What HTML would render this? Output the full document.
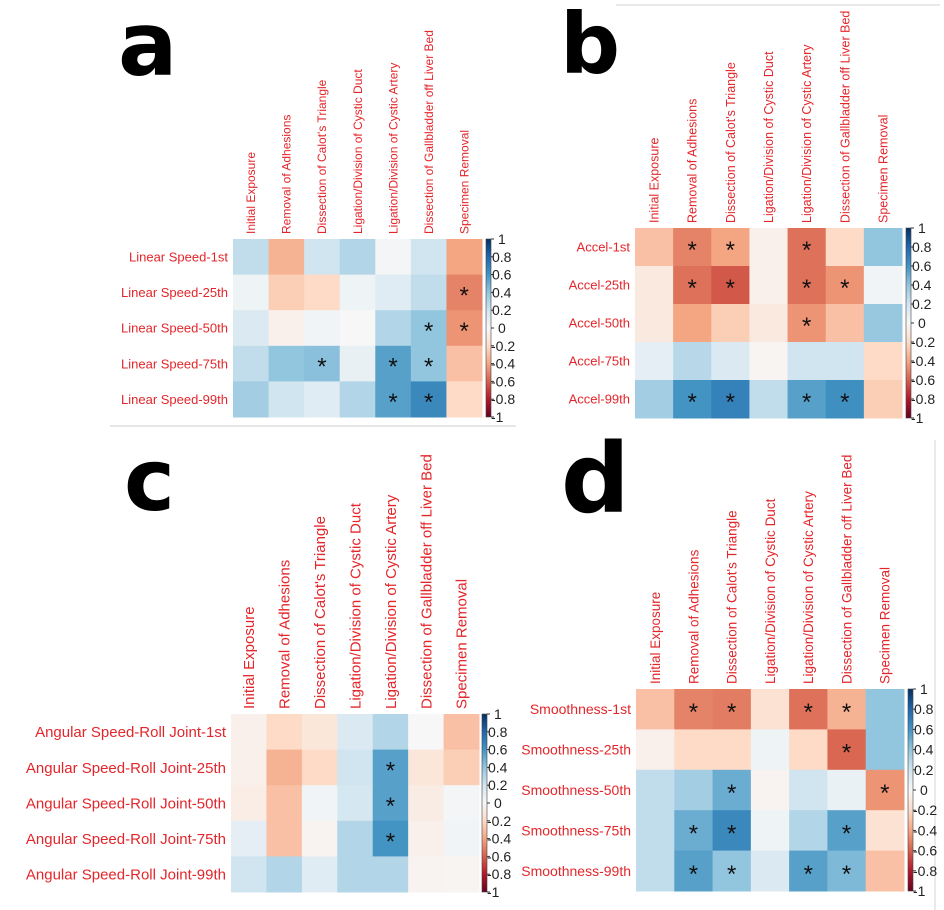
<!DOCTYPE html>
<html><head><meta charset="utf-8"><style>
html,body{margin:0;padding:0;background:#fff;}
svg{display:block;font-family:"Liberation Sans",Arial,sans-serif;}
</style></head><body>
<svg id="fig" width="944" height="910" viewBox="0 0 944 910"></svg>
<script>
const columns = ["Initial Exposure","Removal of Adhesions","Dissection of Calot's Triangle","Ligation/Division of Cystic Duct","Ligation/Division of Cystic Artery","Dissection of Gallbladder off Liver Bed","Specimen Removal"];
const cbTicks = ["1","0.8","0.6","0.4","0.2","0","-0.2","-0.4","-0.6","-0.8","-1"];

const rowsA = ["Linear Speed-1st","Linear Speed-25th","Linear Speed-50th","Linear Speed-75th","Linear Speed-99th"];
const valsA = [
 [0.25,-0.35,0.2,0.3,0.02,0.2,-0.4],
 [0.05,-0.25,-0.2,0.05,0.12,0.25,-0.5],
 [0.15,-0.05,0.03,0,0.3,0.4,-0.45],
 [0.25,0.4,0.42,0.08,0.55,0.4,-0.3],
 [0.35,0.2,0.12,0.3,0.55,0.65,-0.2]];
const sigA = [[0,0,0,0,0,0,0],[0,0,0,0,0,0,1],[0,0,0,0,0,1,1],[0,0,1,0,1,1,0],[0,0,0,0,1,1,0]];

const rowsB = ["Accel-1st","Accel-25th","Accel-50th","Accel-75th","Accel-99th"];
const valsB = [
 [-0.3,-0.5,-0.4,-0.05,-0.55,-0.2,0.4],
 [-0.1,-0.55,-0.62,-0.05,-0.55,-0.45,0.03],
 [-0.1,-0.4,-0.25,-0.1,-0.45,-0.3,0.38],
 [0.1,0.28,0.15,-0.02,0.2,0.2,-0.2],
 [0.35,0.6,0.68,0.25,0.55,0.62,-0.25]];
const sigB = [[0,1,1,0,1,0,0],[0,1,1,0,1,1,0],[0,0,0,0,1,0,0],[0,0,0,0,0,0,0],[0,1,1,0,1,1,0]];

const rowsC = ["Angular Speed-Roll Joint-1st","Angular Speed-Roll Joint-25th","Angular Speed-Roll Joint-50th","Angular Speed-Roll Joint-75th","Angular Speed-Roll Joint-99th"];
const valsC = [
 [-0.05,-0.2,-0.12,0.15,0.3,0,-0.3],
 [-0.05,-0.35,-0.2,0.2,0.55,-0.12,-0.25],
 [-0.07,-0.3,0.03,0.18,0.55,-0.08,0.02],
 [0.1,-0.3,-0.03,0.3,0.6,-0.05,0.03],
 [0.2,0.3,0.12,0.3,0.3,-0.03,-0.02]];
const sigC = [[0,0,0,0,0,0,0],[0,0,0,0,1,0,0],[0,0,0,0,1,0,0],[0,0,0,0,1,0,0],[0,0,0,0,0,0,0]];

const rowsD = ["Smoothness-1st","Smoothness-25th","Smoothness-50th","Smoothness-75th","Smoothness-99th"];
const valsD = [
 [-0.3,-0.5,-0.52,-0.15,-0.55,-0.35,0.4],
 [-0.05,-0.2,-0.2,0.05,-0.2,-0.58,0.4],
 [0.25,0.35,0.5,-0.03,0.2,0.07,-0.45],
 [0.25,0.5,0.65,0.05,0.3,0.55,-0.15],
 [0.25,0.55,0.4,0.15,0.55,0.45,-0.3]];
const sigD = [[0,1,1,0,1,1,0],[0,0,0,0,0,1,0],[0,0,1,0,0,0,1],[0,1,1,0,0,1,0],[0,1,1,0,1,1,0]];

const NS="http://www.w3.org/2000/svg";
const svg=document.getElementById('fig');
const stops=[[-1,[103,0,31]],[-0.8,[178,24,43]],[-0.6,[214,96,77]],[-0.4,[244,165,130]],[-0.2,[253,219,199]],[0,[247,247,247]],[0.2,[209,229,240]],[0.4,[146,197,222]],[0.6,[67,147,195]],[0.8,[33,102,172]],[1,[5,48,97]]];
function color(v){
  v=Math.max(-1,Math.min(1,v));
  for(let i=0;i<stops.length-1;i++){
    const a=stops[i],b=stops[i+1];
    if(v>=a[0]&&v<=b[0]){const t=(v-a[0])/(b[0]-a[0]);
      const c=a[1].map((x,k)=>Math.round(x+(b[1][k]-x)*t));return `rgb(${c.join(',')})`;}
  }
  return '#f7f7f7';
}
function el(tag,attrs,parent){const e=document.createElementNS(NS,tag);for(const k in attrs)e.setAttribute(k,attrs[k]);(parent||svg).appendChild(e);return e;}

function panel(id,letter,lx,ly,lsize,x0,x1,y0,y1,rows,vals,sig,rowFont,colFont,cbx){
  const g=el('g',{});
  
  
  const L=el('text',{x:lx,y:ly,'font-size':lsize,'font-weight':'bold',fill:'#000','font-family':'"DejaVu Sans",sans-serif'},g);
  L.textContent=letter;
  
  
  const nc=columns.length,nr=rows.length;
  const cw=(x1-x0)/nc,rh=(y1-y0)/nr;
  const xs=c=>x0+c*cw, ys=r=>y0+r*rh;
  for(let r=0;r<nr;r++){
    for(let c=0;c<nc;c++){
      const rc=el('rect',{x:xs(c),y:ys(r),width:cw+0.5,height:rh+0.5,fill:color(vals[r][c])},g);
      
      
      if(sig[r][c]){
        const s=el('text',{x:xs(c)+cw/2,y:ys(r)+rh/2+11,'text-anchor':'middle','font-size':24,fill:'#111'},g);
        s.textContent='*';
        
        
      }
    }
    const t=el('text',{x:x0-5,y:ys(r)+rh/2+rowFont*0.36,'text-anchor':'end','font-size':rowFont,fill:'#e3262b'},g);
    t.textContent=rows[r];
    
    
  }
  for(let c=0;c<nc;c++){
    const cx=xs(c)+cw/2+colFont*0.36, cy=y0-5;
    const t=el('text',{x:cx,y:cy,transform:`rotate(-90 ${cx} ${cy})`,'font-size':colFont,fill:'#e3262b'},g);
    t.textContent=columns[c];
    
    
  }
  const defsId='grad-'+id;
  const defs=el('defs',{},g);
  const lg=el('linearGradient',{id:defsId,x1:0,y1:1,x2:0,y2:0},defs);
  stops.forEach(s=>el('stop',{offset:(s[0]+1)/2,'stop-color':`rgb(${s[1].join(',')})`},lg));
  const cb=el('rect',{x:cbx,y:y0,width:5,height:y1-y0,fill:`url(#${defsId})`,stroke:'#444','stroke-width':0.6},g);
  
  
  cbTicks.forEach((tk,i)=>{
    const ty=y0+i*(y1-y0)/(cbTicks.length-1);
    el('line',{x1:cbx+5,x2:cbx+8,y1:ty,y2:ty,stroke:'#333','stroke-width':1},g);
    const t=el('text',{x:cbx+(tk.startsWith('-')?5:(tk.length===1?12:6)),y:ty+5,'font-size':14,fill:'#222'},g);
    t.textContent=tk;
    
    
  });
}
el('line',{x1:110,x2:516,y1:426,y2:426,stroke:'#e6e6e6','stroke-width':2});
el('line',{x1:616,x2:940,y1:5,y2:5,stroke:'#e2e2e2','stroke-width':1.5});
el('line',{x1:935,x2:935,y1:440,y2:910,stroke:'#e2e2e2','stroke-width':1.5});

panel('a','a',118,75,88,233,482,239,417,rowsA,valsA,sigA,13,12,486);
panel('b','b',560,73,84,635,902,228,418,rowsB,valsB,sigB,13,12.5,906);
panel('c','c',124,510,86,231,479,714,892,rowsC,valsC,sigC,15,15,482);
panel('d','d',561,512,96,636,904,689,891,rowsD,valsD,sigD,14,13.5,908);
</script>
</body></html>
